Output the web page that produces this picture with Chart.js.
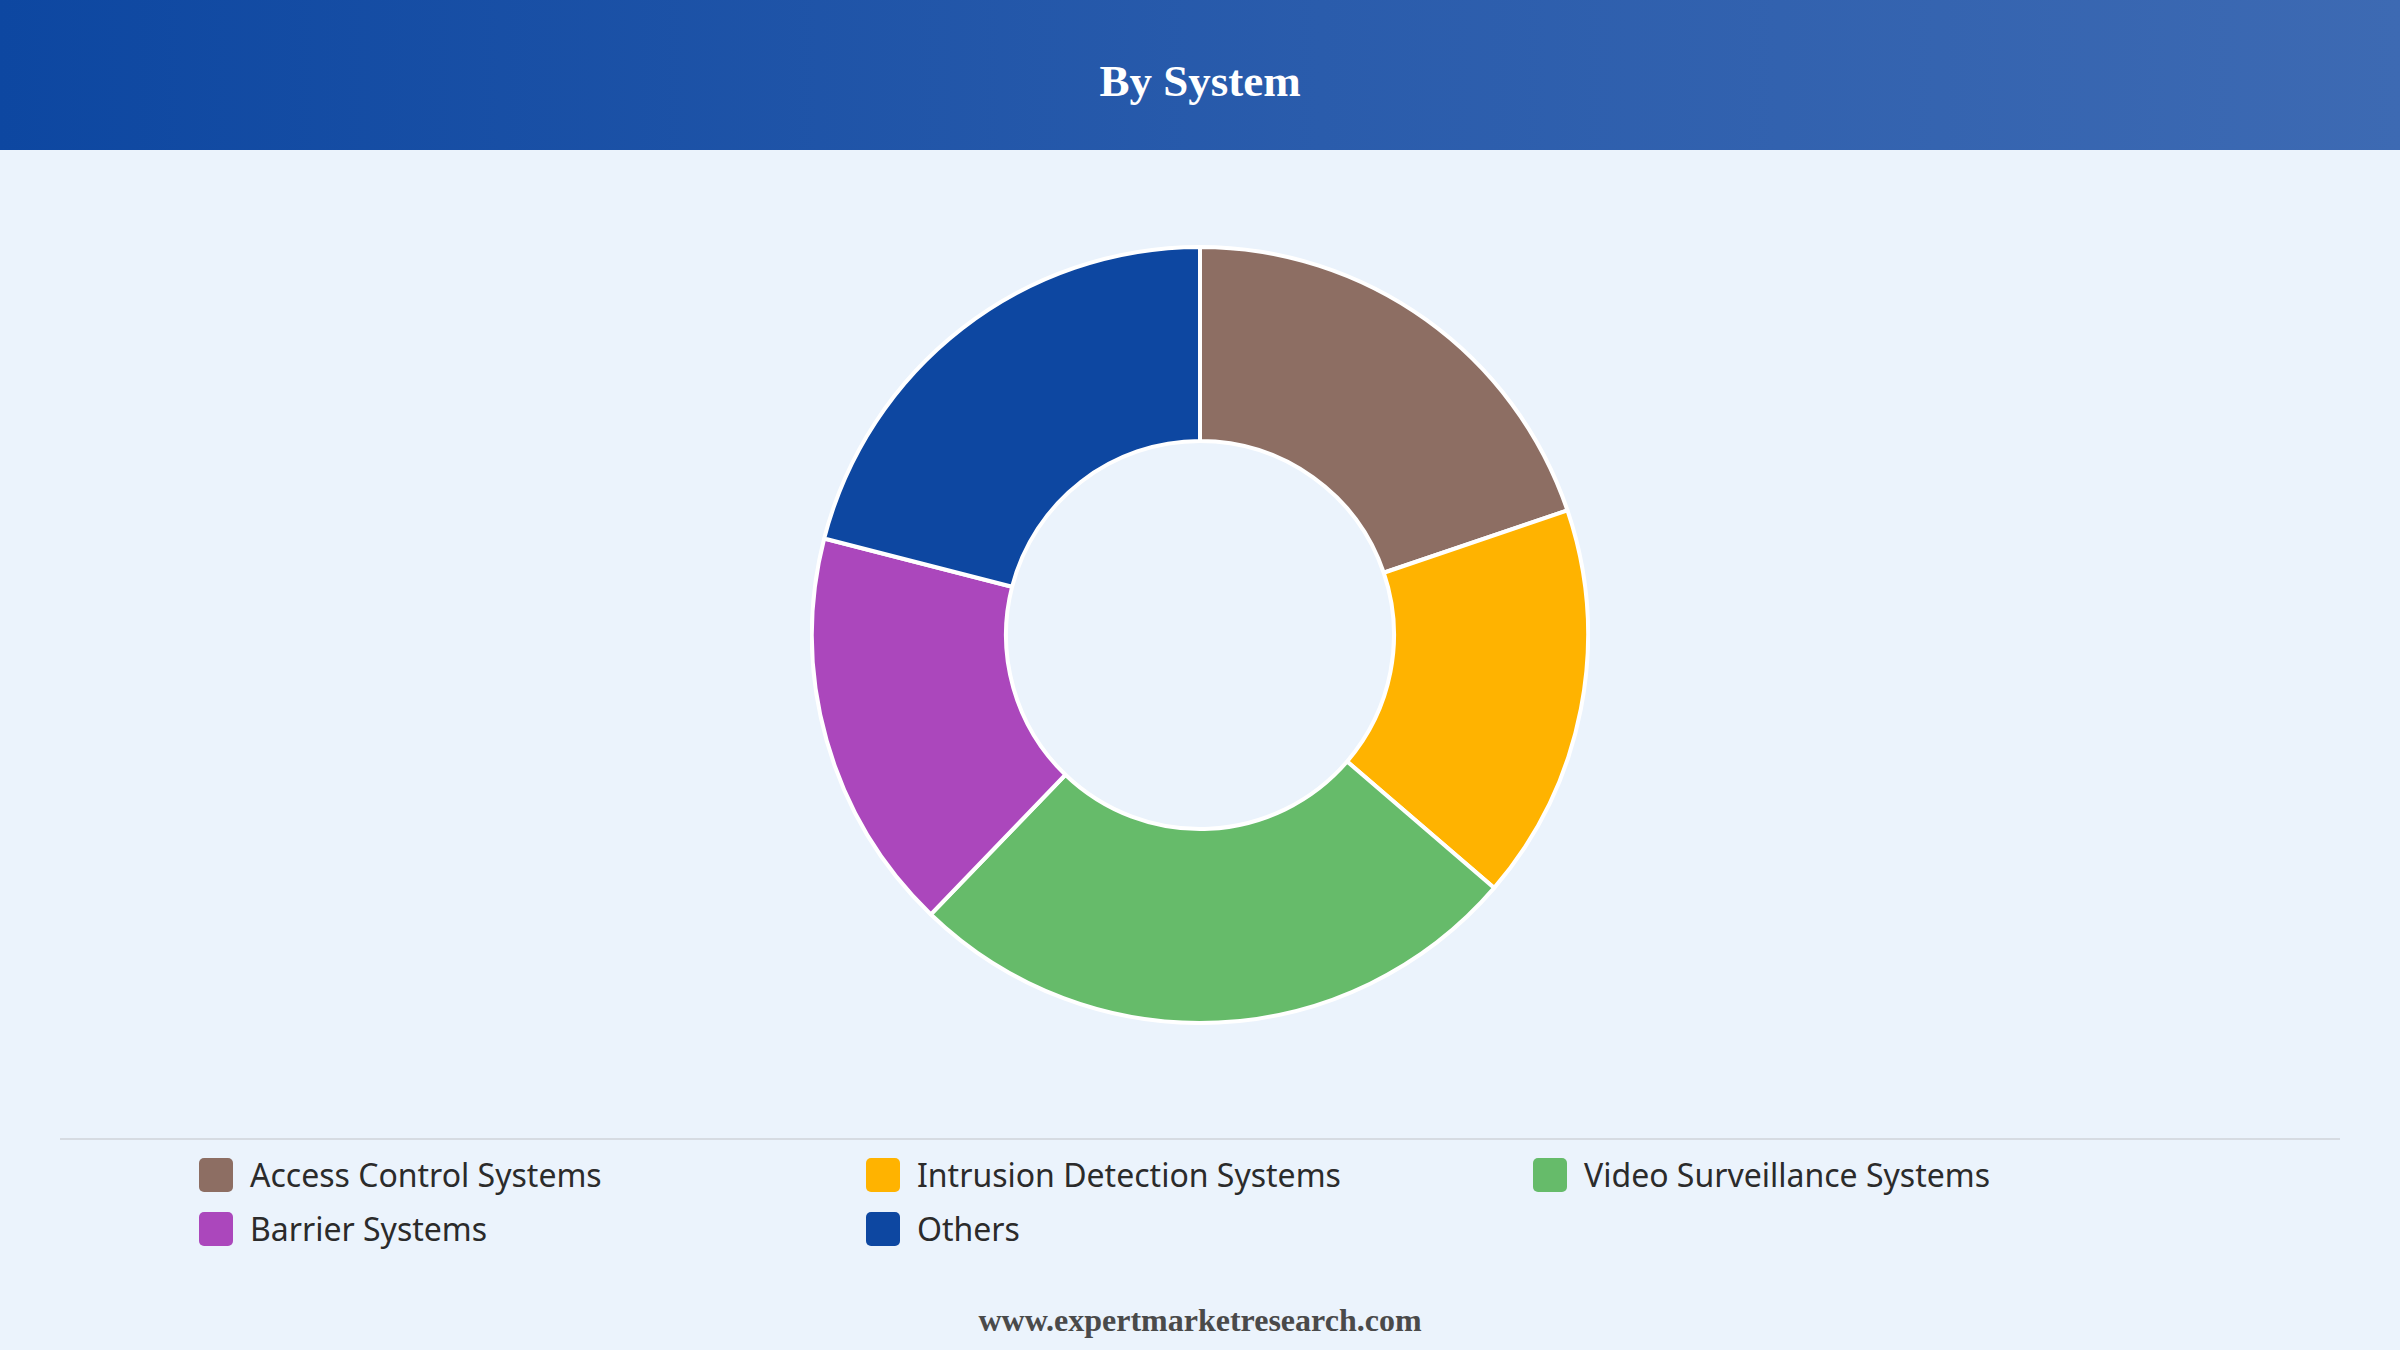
<!DOCTYPE html>
<html>
<head>
<meta charset="utf-8">
<script src="https://cdn.jsdelivr.net/npm/chart.js@4/dist/chart.umd.min.js"></script>
<style>
  html, body { margin: 0; padding: 0; }
  body { width: 2400px; height: 1350px; background: #ebf3fc; position: relative; overflow: hidden; font-family: "Noto Sans", "Open Sans", sans-serif; }
  .header { position: absolute; left: 0; top: 0; width: 2400px; height: 150px;
    background: linear-gradient(90deg, #0d47a1 0%, #2a5cac 55%, #3d6ab3 100%); }
  .header h1 { margin: 0; line-height: 162px; text-align: center; color: #fff;
    font-family: "Liberation Serif", serif; font-weight: bold; font-size: 45px; }
  .chart-box { position: absolute; left: 810px; top: 245px; width: 780px; height: 780px; }
  .sep { position: absolute; left: 60px; top: 1138px; width: 2280px; height: 2px; background: #d6dbe2; }
  .legend { position: absolute; left: 199px; top: 1153px; width: 2100px; }
  .item { position: absolute; display: flex; align-items: center; font-size: 32px; color: #2b2b2b; }
  .sw { width: 34px; height: 34px; border-radius: 5px; margin-right: 17px; }
  .footer { position: absolute; left: 0; width: 2400px; top: 1302px; text-align: center;
    font-family: "Liberation Serif", serif; font-weight: bold; font-size: 32px; color: #4a4a4a; }
</style>
</head>
<body>
<div class="header"><h1>By System</h1></div>
<div class="chart-box"><canvas id="donut"></canvas></div>
<div class="sep"></div>
<div class="legend" id="legend"></div>
<div class="footer">www.expertmarketresearch.com</div>
<script>
const categories = ['Access Control Systems', 'Intrusion Detection Systems', 'Video Surveillance Systems', 'Barrier Systems', 'Others'];
const shares = [19.8, 16.5, 25.9, 16.8, 21.0];
const colors = ['#8d6e63', '#ffb300', '#66bb6a', '#ab47bc', '#0d47a1'];

new Chart(document.getElementById('donut'), {
  type: 'doughnut',
  data: {
    labels: categories,
    datasets: [{ data: shares, backgroundColor: colors, borderColor: '#ffffff', borderWidth: 4 }]
  },
  options: {
    responsive: true,
    maintainAspectRatio: false,
    animation: false,
    cutout: '50%',
    plugins: { legend: { display: false }, tooltip: { enabled: false } }
  }
});

// legend: 3 columns, two rows
const legend = document.getElementById('legend');
categories.forEach((name, i) => {
  const el = document.createElement('div');
  el.className = 'item';
  el.style.left = (i % 3) * 667 + 'px';
  el.style.top = Math.floor(i / 3) * 54 + 'px';
  el.innerHTML = `<span class="sw" style="background:${colors[i]}"></span>${name}`;
  legend.appendChild(el);
});
</script>
</body>
</html>
